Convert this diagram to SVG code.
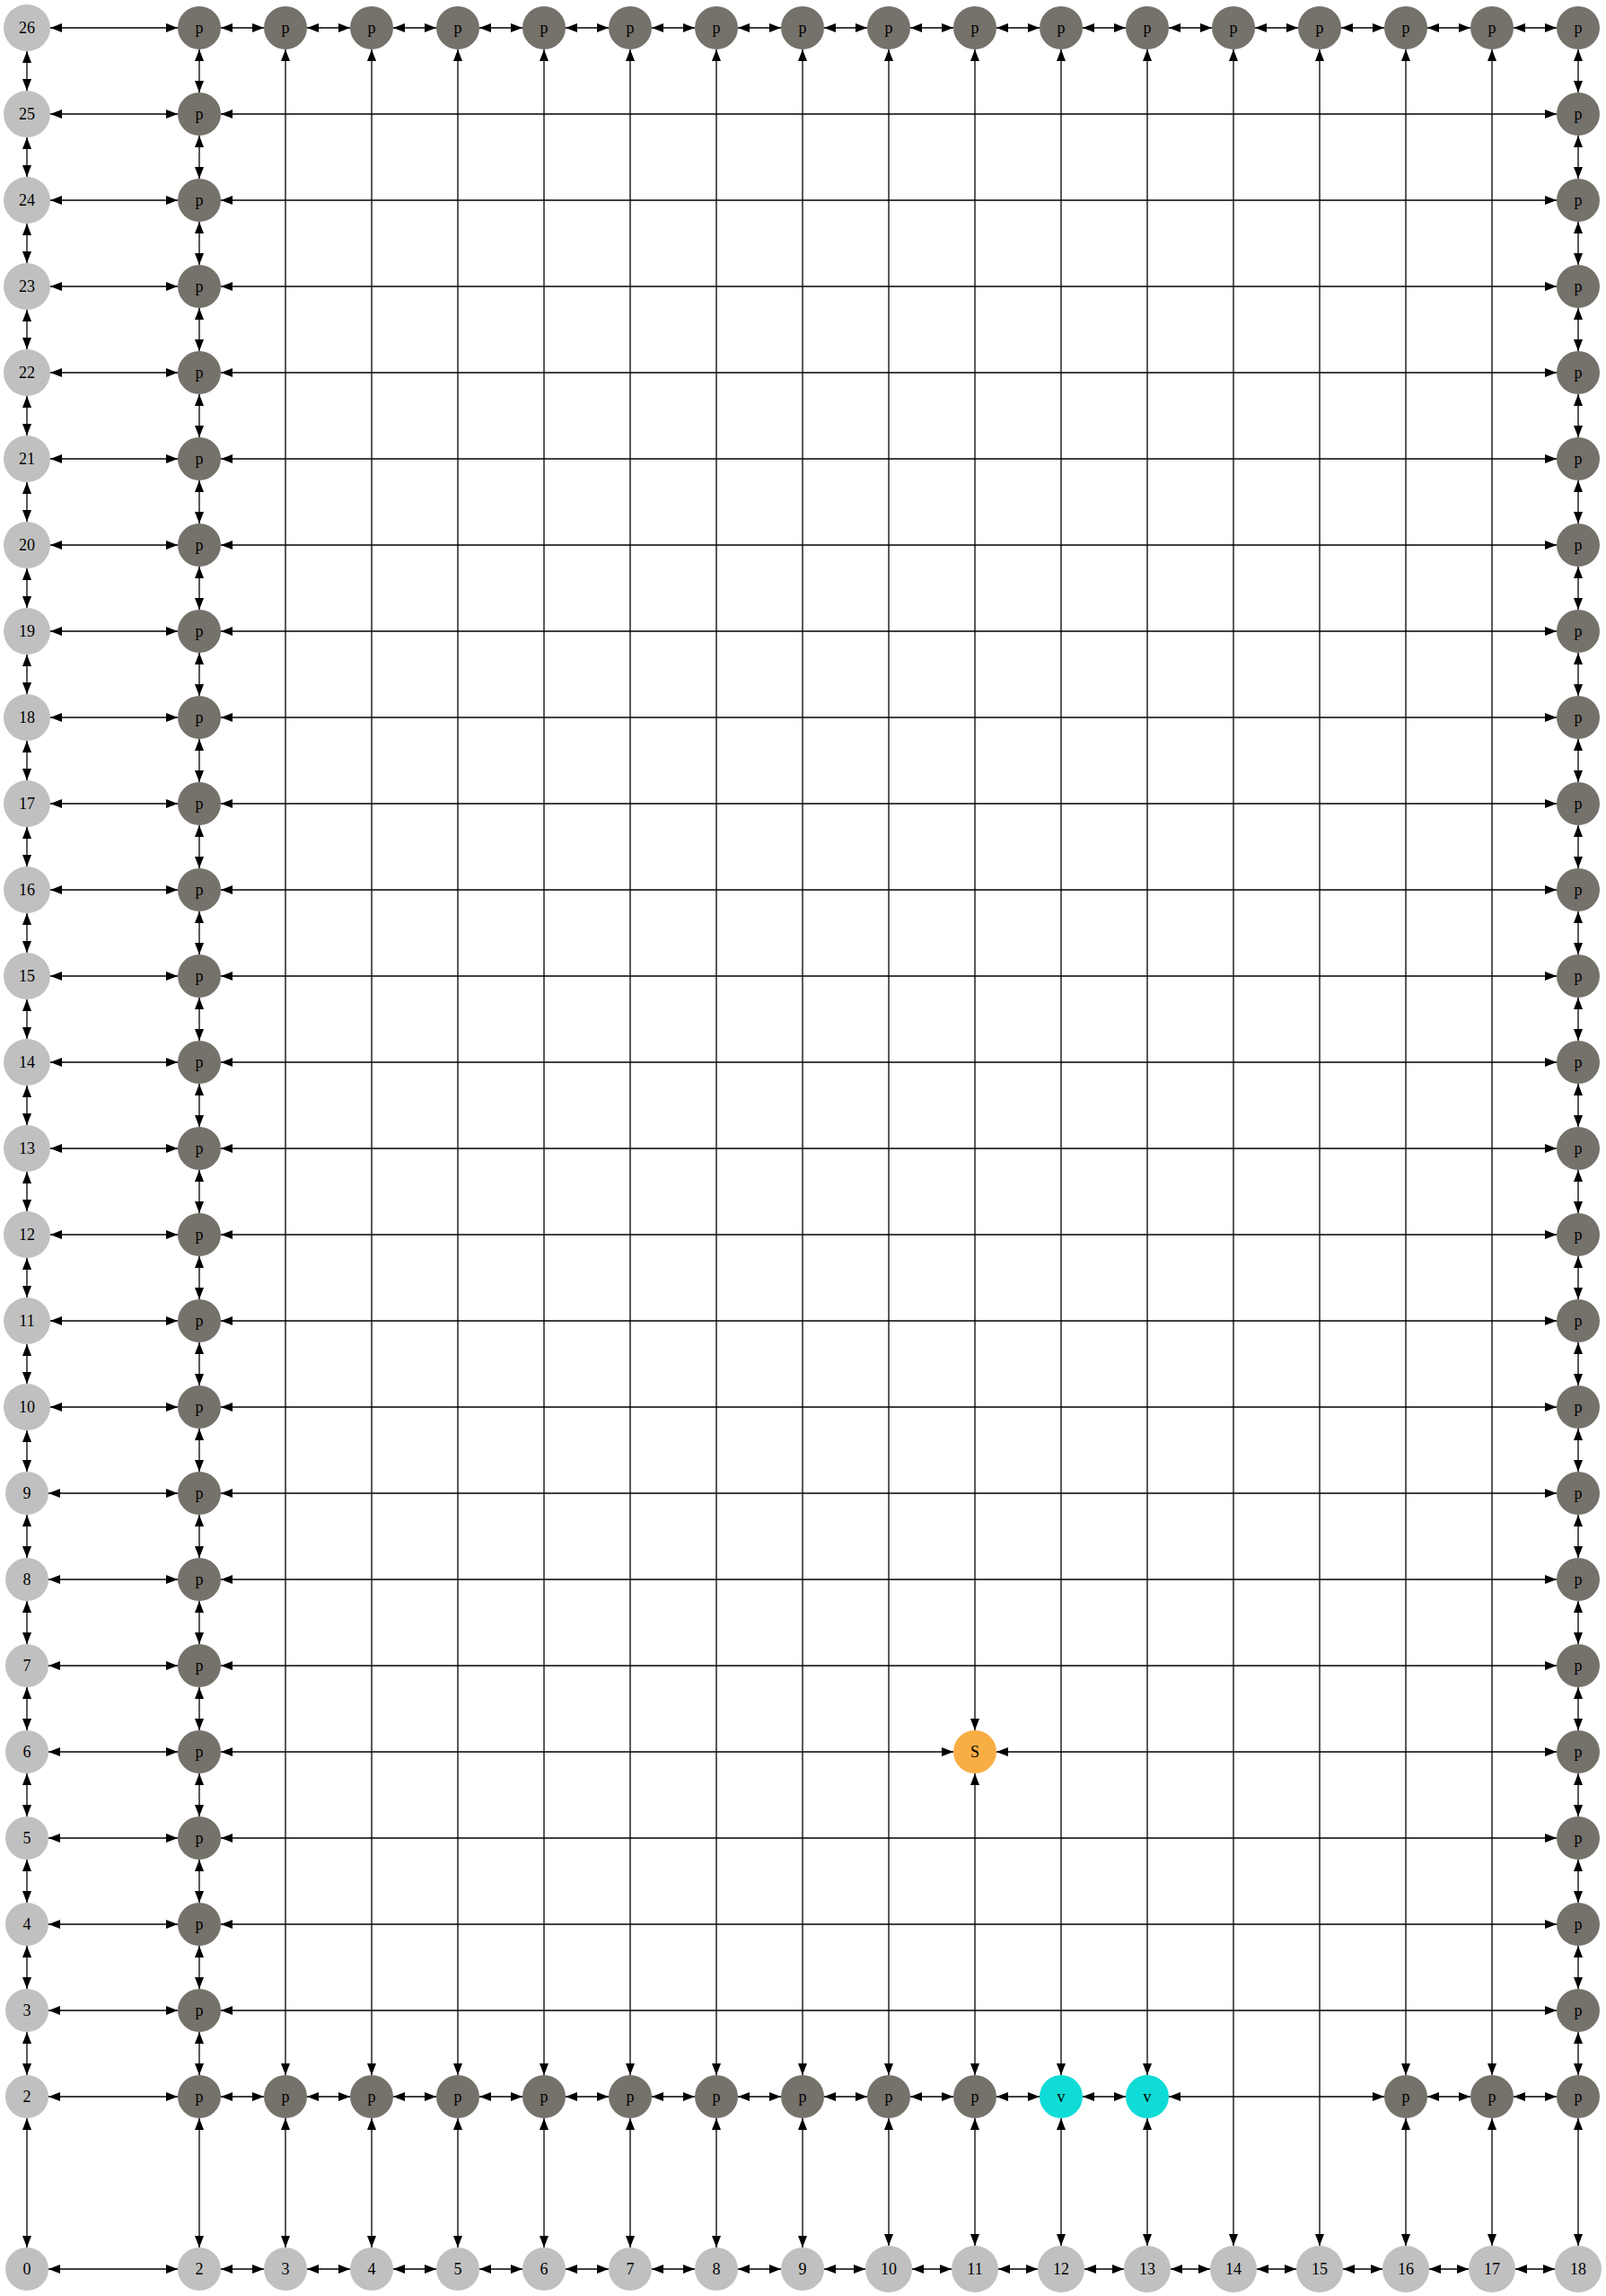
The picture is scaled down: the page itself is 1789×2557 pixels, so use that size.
<svg xmlns="http://www.w3.org/2000/svg" width="1789" height="2557" viewBox="0 0 1789 2557">
<style>
.e{stroke:#000;stroke-width:1.3;fill:none;marker-start:url(#a);marker-end:url(#a)}
.g{fill:#c0c0c0}
.p{fill:#75716b}
.v{fill:#0fdcd6}
.s{fill:#f9ae44}
text{font-family:"Liberation Serif","Times New Roman",serif;font-size:18px;text-anchor:middle;fill:#000}
</style>
<defs>
<marker id="a" viewBox="0 0 13 10" refX="13" refY="5" markerWidth="13" markerHeight="10" markerUnits="userSpaceOnUse" orient="auto-start-reverse">
<path d="M0,0 L13,5 L0,10 z" fill="#000"/>
</marker>
</defs>
<rect width="1789" height="2557" fill="#fff"/>
<g id="connectors">
<line class="e" x1="30" y1="57" x2="30" y2="101"/>
<line class="e" x1="30" y1="153" x2="30" y2="197"/>
<line class="e" x1="30" y1="249" x2="30" y2="293"/>
<line class="e" x1="30" y1="345" x2="30" y2="389"/>
<line class="e" x1="30" y1="441" x2="30" y2="485"/>
<line class="e" x1="30" y1="537" x2="30" y2="581"/>
<line class="e" x1="30" y1="633" x2="30" y2="677"/>
<line class="e" x1="30" y1="729" x2="30" y2="773"/>
<line class="e" x1="30" y1="825" x2="30" y2="869"/>
<line class="e" x1="30" y1="921" x2="30" y2="965"/>
<line class="e" x1="30" y1="1017" x2="30" y2="1061"/>
<line class="e" x1="30" y1="1113" x2="30" y2="1157"/>
<line class="e" x1="30" y1="1209" x2="30" y2="1253"/>
<line class="e" x1="30" y1="1305" x2="30" y2="1349"/>
<line class="e" x1="30" y1="1401" x2="30" y2="1445"/>
<line class="e" x1="30" y1="1497" x2="30" y2="1541"/>
<line class="e" x1="30" y1="1593" x2="30" y2="1639"/>
<line class="e" x1="30" y1="1687" x2="30" y2="1735"/>
<line class="e" x1="30" y1="1783" x2="30" y2="1831"/>
<line class="e" x1="30" y1="1879" x2="30" y2="1927"/>
<line class="e" x1="30" y1="1975" x2="30" y2="2023"/>
<line class="e" x1="30" y1="2071" x2="30" y2="2119"/>
<line class="e" x1="30" y1="2167" x2="30" y2="2215"/>
<line class="e" x1="30" y1="2263" x2="30" y2="2311"/>
<line class="e" x1="30" y1="2359" x2="30" y2="2503"/>
<line class="e" x1="56" y1="31" x2="198" y2="31"/>
<line class="e" x1="56" y1="127" x2="198" y2="127"/>
<line class="e" x1="56" y1="223" x2="198" y2="223"/>
<line class="e" x1="56" y1="319" x2="198" y2="319"/>
<line class="e" x1="56" y1="415" x2="198" y2="415"/>
<line class="e" x1="56" y1="511" x2="198" y2="511"/>
<line class="e" x1="56" y1="607" x2="198" y2="607"/>
<line class="e" x1="56" y1="703" x2="198" y2="703"/>
<line class="e" x1="56" y1="799" x2="198" y2="799"/>
<line class="e" x1="56" y1="895" x2="198" y2="895"/>
<line class="e" x1="56" y1="991" x2="198" y2="991"/>
<line class="e" x1="56" y1="1087" x2="198" y2="1087"/>
<line class="e" x1="56" y1="1183" x2="198" y2="1183"/>
<line class="e" x1="56" y1="1279" x2="198" y2="1279"/>
<line class="e" x1="56" y1="1375" x2="198" y2="1375"/>
<line class="e" x1="56" y1="1471" x2="198" y2="1471"/>
<line class="e" x1="56" y1="1567" x2="198" y2="1567"/>
<line class="e" x1="54" y1="1663" x2="198" y2="1663"/>
<line class="e" x1="54" y1="1759" x2="198" y2="1759"/>
<line class="e" x1="54" y1="1855" x2="198" y2="1855"/>
<line class="e" x1="54" y1="1951" x2="198" y2="1951"/>
<line class="e" x1="54" y1="2047" x2="198" y2="2047"/>
<line class="e" x1="54" y1="2143" x2="198" y2="2143"/>
<line class="e" x1="54" y1="2239" x2="198" y2="2239"/>
<line class="e" x1="54" y1="2335" x2="198" y2="2335"/>
<line class="e" x1="54" y1="2527" x2="198" y2="2527"/>
<line class="e" x1="222" y1="55" x2="222" y2="103"/>
<line class="e" x1="222" y1="151" x2="222" y2="199"/>
<line class="e" x1="222" y1="247" x2="222" y2="295"/>
<line class="e" x1="222" y1="343" x2="222" y2="391"/>
<line class="e" x1="222" y1="439" x2="222" y2="487"/>
<line class="e" x1="222" y1="535" x2="222" y2="583"/>
<line class="e" x1="222" y1="631" x2="222" y2="679"/>
<line class="e" x1="222" y1="727" x2="222" y2="775"/>
<line class="e" x1="222" y1="823" x2="222" y2="871"/>
<line class="e" x1="222" y1="919" x2="222" y2="967"/>
<line class="e" x1="222" y1="1015" x2="222" y2="1063"/>
<line class="e" x1="222" y1="1111" x2="222" y2="1159"/>
<line class="e" x1="222" y1="1207" x2="222" y2="1255"/>
<line class="e" x1="222" y1="1303" x2="222" y2="1351"/>
<line class="e" x1="222" y1="1399" x2="222" y2="1447"/>
<line class="e" x1="222" y1="1495" x2="222" y2="1543"/>
<line class="e" x1="222" y1="1591" x2="222" y2="1639"/>
<line class="e" x1="222" y1="1687" x2="222" y2="1735"/>
<line class="e" x1="222" y1="1783" x2="222" y2="1831"/>
<line class="e" x1="222" y1="1879" x2="222" y2="1927"/>
<line class="e" x1="222" y1="1975" x2="222" y2="2023"/>
<line class="e" x1="222" y1="2071" x2="222" y2="2119"/>
<line class="e" x1="222" y1="2167" x2="222" y2="2215"/>
<line class="e" x1="222" y1="2263" x2="222" y2="2311"/>
<line class="e" x1="1758" y1="55" x2="1758" y2="103"/>
<line class="e" x1="1758" y1="151" x2="1758" y2="199"/>
<line class="e" x1="1758" y1="247" x2="1758" y2="295"/>
<line class="e" x1="1758" y1="343" x2="1758" y2="391"/>
<line class="e" x1="1758" y1="439" x2="1758" y2="487"/>
<line class="e" x1="1758" y1="535" x2="1758" y2="583"/>
<line class="e" x1="1758" y1="631" x2="1758" y2="679"/>
<line class="e" x1="1758" y1="727" x2="1758" y2="775"/>
<line class="e" x1="1758" y1="823" x2="1758" y2="871"/>
<line class="e" x1="1758" y1="919" x2="1758" y2="967"/>
<line class="e" x1="1758" y1="1015" x2="1758" y2="1063"/>
<line class="e" x1="1758" y1="1111" x2="1758" y2="1159"/>
<line class="e" x1="1758" y1="1207" x2="1758" y2="1255"/>
<line class="e" x1="1758" y1="1303" x2="1758" y2="1351"/>
<line class="e" x1="1758" y1="1399" x2="1758" y2="1447"/>
<line class="e" x1="1758" y1="1495" x2="1758" y2="1543"/>
<line class="e" x1="1758" y1="1591" x2="1758" y2="1639"/>
<line class="e" x1="1758" y1="1687" x2="1758" y2="1735"/>
<line class="e" x1="1758" y1="1783" x2="1758" y2="1831"/>
<line class="e" x1="1758" y1="1879" x2="1758" y2="1927"/>
<line class="e" x1="1758" y1="1975" x2="1758" y2="2023"/>
<line class="e" x1="1758" y1="2071" x2="1758" y2="2119"/>
<line class="e" x1="1758" y1="2167" x2="1758" y2="2215"/>
<line class="e" x1="1758" y1="2263" x2="1758" y2="2311"/>
<line class="e" x1="246" y1="127" x2="1734" y2="127"/>
<line class="e" x1="246" y1="223" x2="1734" y2="223"/>
<line class="e" x1="246" y1="319" x2="1734" y2="319"/>
<line class="e" x1="246" y1="415" x2="1734" y2="415"/>
<line class="e" x1="246" y1="511" x2="1734" y2="511"/>
<line class="e" x1="246" y1="607" x2="1734" y2="607"/>
<line class="e" x1="246" y1="703" x2="1734" y2="703"/>
<line class="e" x1="246" y1="799" x2="1734" y2="799"/>
<line class="e" x1="246" y1="895" x2="1734" y2="895"/>
<line class="e" x1="246" y1="991" x2="1734" y2="991"/>
<line class="e" x1="246" y1="1087" x2="1734" y2="1087"/>
<line class="e" x1="246" y1="1183" x2="1734" y2="1183"/>
<line class="e" x1="246" y1="1279" x2="1734" y2="1279"/>
<line class="e" x1="246" y1="1375" x2="1734" y2="1375"/>
<line class="e" x1="246" y1="1471" x2="1734" y2="1471"/>
<line class="e" x1="246" y1="1567" x2="1734" y2="1567"/>
<line class="e" x1="246" y1="1663" x2="1734" y2="1663"/>
<line class="e" x1="246" y1="1759" x2="1734" y2="1759"/>
<line class="e" x1="246" y1="1855" x2="1734" y2="1855"/>
<line class="e" x1="246" y1="1951" x2="1062" y2="1951"/>
<line class="e" x1="1110" y1="1951" x2="1734" y2="1951"/>
<line class="e" x1="246" y1="2047" x2="1734" y2="2047"/>
<line class="e" x1="246" y1="2143" x2="1734" y2="2143"/>
<line class="e" x1="246" y1="2239" x2="1734" y2="2239"/>
<line class="e" x1="246" y1="31" x2="294" y2="31"/>
<line class="e" x1="342" y1="31" x2="390" y2="31"/>
<line class="e" x1="438" y1="31" x2="486" y2="31"/>
<line class="e" x1="534" y1="31" x2="582" y2="31"/>
<line class="e" x1="630" y1="31" x2="678" y2="31"/>
<line class="e" x1="726" y1="31" x2="774" y2="31"/>
<line class="e" x1="822" y1="31" x2="870" y2="31"/>
<line class="e" x1="918" y1="31" x2="966" y2="31"/>
<line class="e" x1="1014" y1="31" x2="1062" y2="31"/>
<line class="e" x1="1110" y1="31" x2="1158" y2="31"/>
<line class="e" x1="1206" y1="31" x2="1254" y2="31"/>
<line class="e" x1="1302" y1="31" x2="1350" y2="31"/>
<line class="e" x1="1398" y1="31" x2="1446" y2="31"/>
<line class="e" x1="1494" y1="31" x2="1542" y2="31"/>
<line class="e" x1="1590" y1="31" x2="1638" y2="31"/>
<line class="e" x1="1686" y1="31" x2="1734" y2="31"/>
<line class="e" x1="246" y1="2335" x2="294" y2="2335"/>
<line class="e" x1="342" y1="2335" x2="390" y2="2335"/>
<line class="e" x1="438" y1="2335" x2="486" y2="2335"/>
<line class="e" x1="534" y1="2335" x2="582" y2="2335"/>
<line class="e" x1="630" y1="2335" x2="678" y2="2335"/>
<line class="e" x1="726" y1="2335" x2="774" y2="2335"/>
<line class="e" x1="822" y1="2335" x2="870" y2="2335"/>
<line class="e" x1="918" y1="2335" x2="966" y2="2335"/>
<line class="e" x1="1014" y1="2335" x2="1062" y2="2335"/>
<line class="e" x1="1110" y1="2335" x2="1158" y2="2335"/>
<line class="e" x1="1206" y1="2335" x2="1254" y2="2335"/>
<line class="e" x1="1302" y1="2335" x2="1542" y2="2335"/>
<line class="e" x1="1590" y1="2335" x2="1638" y2="2335"/>
<line class="e" x1="1686" y1="2335" x2="1734" y2="2335"/>
<line class="e" x1="246" y1="2527" x2="294" y2="2527"/>
<line class="e" x1="342" y1="2527" x2="390" y2="2527"/>
<line class="e" x1="438" y1="2527" x2="486" y2="2527"/>
<line class="e" x1="534" y1="2527" x2="582" y2="2527"/>
<line class="e" x1="630" y1="2527" x2="678" y2="2527"/>
<line class="e" x1="726" y1="2527" x2="774" y2="2527"/>
<line class="e" x1="822" y1="2527" x2="870" y2="2527"/>
<line class="e" x1="918" y1="2527" x2="964" y2="2527"/>
<line class="e" x1="1016" y1="2527" x2="1060" y2="2527"/>
<line class="e" x1="1112" y1="2527" x2="1156" y2="2527"/>
<line class="e" x1="1208" y1="2527" x2="1252" y2="2527"/>
<line class="e" x1="1304" y1="2527" x2="1348" y2="2527"/>
<line class="e" x1="1400" y1="2527" x2="1444" y2="2527"/>
<line class="e" x1="1496" y1="2527" x2="1540" y2="2527"/>
<line class="e" x1="1592" y1="2527" x2="1636" y2="2527"/>
<line class="e" x1="1688" y1="2527" x2="1732" y2="2527"/>
<line class="e" x1="318" y1="55" x2="318" y2="2311"/>
<line class="e" x1="414" y1="55" x2="414" y2="2311"/>
<line class="e" x1="510" y1="55" x2="510" y2="2311"/>
<line class="e" x1="606" y1="55" x2="606" y2="2311"/>
<line class="e" x1="702" y1="55" x2="702" y2="2311"/>
<line class="e" x1="798" y1="55" x2="798" y2="2311"/>
<line class="e" x1="894" y1="55" x2="894" y2="2311"/>
<line class="e" x1="990" y1="55" x2="990" y2="2311"/>
<line class="e" x1="1086" y1="55" x2="1086" y2="1927"/>
<line class="e" x1="1086" y1="1975" x2="1086" y2="2311"/>
<line class="e" x1="1182" y1="55" x2="1182" y2="2311"/>
<line class="e" x1="1278" y1="55" x2="1278" y2="2311"/>
<line class="e" x1="1374" y1="55" x2="1374" y2="2501"/>
<line class="e" x1="1470" y1="55" x2="1470" y2="2501"/>
<line class="e" x1="1566" y1="55" x2="1566" y2="2311"/>
<line class="e" x1="1662" y1="55" x2="1662" y2="2311"/>
<line class="e" x1="222" y1="2359" x2="222" y2="2503"/>
<line class="e" x1="318" y1="2359" x2="318" y2="2503"/>
<line class="e" x1="414" y1="2359" x2="414" y2="2503"/>
<line class="e" x1="510" y1="2359" x2="510" y2="2503"/>
<line class="e" x1="606" y1="2359" x2="606" y2="2503"/>
<line class="e" x1="702" y1="2359" x2="702" y2="2503"/>
<line class="e" x1="798" y1="2359" x2="798" y2="2503"/>
<line class="e" x1="894" y1="2359" x2="894" y2="2503"/>
<line class="e" x1="990" y1="2359" x2="990" y2="2501"/>
<line class="e" x1="1086" y1="2359" x2="1086" y2="2501"/>
<line class="e" x1="1182" y1="2359" x2="1182" y2="2501"/>
<line class="e" x1="1278" y1="2359" x2="1278" y2="2501"/>
<line class="e" x1="1566" y1="2359" x2="1566" y2="2501"/>
<line class="e" x1="1662" y1="2359" x2="1662" y2="2501"/>
<line class="e" x1="1758" y1="2359" x2="1758" y2="2501"/>
</g>
<g id="nodes">
<g id="l26"><circle class="g" cx="30" cy="31" r="26"/><text x="30" y="37">26</text></g>
<g id="l25"><circle class="g" cx="30" cy="127" r="26"/><text x="30" y="133">25</text></g>
<g id="l24"><circle class="g" cx="30" cy="223" r="26"/><text x="30" y="229">24</text></g>
<g id="l23"><circle class="g" cx="30" cy="319" r="26"/><text x="30" y="325">23</text></g>
<g id="l22"><circle class="g" cx="30" cy="415" r="26"/><text x="30" y="421">22</text></g>
<g id="l21"><circle class="g" cx="30" cy="511" r="26"/><text x="30" y="517">21</text></g>
<g id="l20"><circle class="g" cx="30" cy="607" r="26"/><text x="30" y="613">20</text></g>
<g id="l19"><circle class="g" cx="30" cy="703" r="26"/><text x="30" y="709">19</text></g>
<g id="l18"><circle class="g" cx="30" cy="799" r="26"/><text x="30" y="805">18</text></g>
<g id="l17"><circle class="g" cx="30" cy="895" r="26"/><text x="30" y="901">17</text></g>
<g id="l16"><circle class="g" cx="30" cy="991" r="26"/><text x="30" y="997">16</text></g>
<g id="l15"><circle class="g" cx="30" cy="1087" r="26"/><text x="30" y="1093">15</text></g>
<g id="l14"><circle class="g" cx="30" cy="1183" r="26"/><text x="30" y="1189">14</text></g>
<g id="l13"><circle class="g" cx="30" cy="1279" r="26"/><text x="30" y="1285">13</text></g>
<g id="l12"><circle class="g" cx="30" cy="1375" r="26"/><text x="30" y="1381">12</text></g>
<g id="l11"><circle class="g" cx="30" cy="1471" r="26"/><text x="30" y="1477">11</text></g>
<g id="l10"><circle class="g" cx="30" cy="1567" r="26"/><text x="30" y="1573">10</text></g>
<g id="l9"><circle class="g" cx="30" cy="1663" r="24"/><text x="30" y="1669">9</text></g>
<g id="l8"><circle class="g" cx="30" cy="1759" r="24"/><text x="30" y="1765">8</text></g>
<g id="l7"><circle class="g" cx="30" cy="1855" r="24"/><text x="30" y="1861">7</text></g>
<g id="l6"><circle class="g" cx="30" cy="1951" r="24"/><text x="30" y="1957">6</text></g>
<g id="l5"><circle class="g" cx="30" cy="2047" r="24"/><text x="30" y="2053">5</text></g>
<g id="l4"><circle class="g" cx="30" cy="2143" r="24"/><text x="30" y="2149">4</text></g>
<g id="l3"><circle class="g" cx="30" cy="2239" r="24"/><text x="30" y="2245">3</text></g>
<g id="l2"><circle class="g" cx="30" cy="2335" r="24"/><text x="30" y="2341">2</text></g>
<g id="l0"><circle class="g" cx="30" cy="2527" r="24"/><text x="30" y="2533">0</text></g>
<g id="b2"><circle class="g" cx="222" cy="2527" r="24"/><text x="222" y="2533">2</text></g>
<g id="b3"><circle class="g" cx="318" cy="2527" r="24"/><text x="318" y="2533">3</text></g>
<g id="b4"><circle class="g" cx="414" cy="2527" r="24"/><text x="414" y="2533">4</text></g>
<g id="b5"><circle class="g" cx="510" cy="2527" r="24"/><text x="510" y="2533">5</text></g>
<g id="b6"><circle class="g" cx="606" cy="2527" r="24"/><text x="606" y="2533">6</text></g>
<g id="b7"><circle class="g" cx="702" cy="2527" r="24"/><text x="702" y="2533">7</text></g>
<g id="b8"><circle class="g" cx="798" cy="2527" r="24"/><text x="798" y="2533">8</text></g>
<g id="b9"><circle class="g" cx="894" cy="2527" r="24"/><text x="894" y="2533">9</text></g>
<g id="b10"><circle class="g" cx="990" cy="2527" r="26"/><text x="990" y="2533">10</text></g>
<g id="b11"><circle class="g" cx="1086" cy="2527" r="26"/><text x="1086" y="2533">11</text></g>
<g id="b12"><circle class="g" cx="1182" cy="2527" r="26"/><text x="1182" y="2533">12</text></g>
<g id="b13"><circle class="g" cx="1278" cy="2527" r="26"/><text x="1278" y="2533">13</text></g>
<g id="b14"><circle class="g" cx="1374" cy="2527" r="26"/><text x="1374" y="2533">14</text></g>
<g id="b15"><circle class="g" cx="1470" cy="2527" r="26"/><text x="1470" y="2533">15</text></g>
<g id="b16"><circle class="g" cx="1566" cy="2527" r="26"/><text x="1566" y="2533">16</text></g>
<g id="b17"><circle class="g" cx="1662" cy="2527" r="26"/><text x="1662" y="2533">17</text></g>
<g id="b18"><circle class="g" cx="1758" cy="2527" r="26"/><text x="1758" y="2533">18</text></g>
<g id="p2_26"><circle class="p" cx="222" cy="31" r="24"/><text x="222" y="37">p</text></g>
<g id="p2_25"><circle class="p" cx="222" cy="127" r="24"/><text x="222" y="133">p</text></g>
<g id="p2_24"><circle class="p" cx="222" cy="223" r="24"/><text x="222" y="229">p</text></g>
<g id="p2_23"><circle class="p" cx="222" cy="319" r="24"/><text x="222" y="325">p</text></g>
<g id="p2_22"><circle class="p" cx="222" cy="415" r="24"/><text x="222" y="421">p</text></g>
<g id="p2_21"><circle class="p" cx="222" cy="511" r="24"/><text x="222" y="517">p</text></g>
<g id="p2_20"><circle class="p" cx="222" cy="607" r="24"/><text x="222" y="613">p</text></g>
<g id="p2_19"><circle class="p" cx="222" cy="703" r="24"/><text x="222" y="709">p</text></g>
<g id="p2_18"><circle class="p" cx="222" cy="799" r="24"/><text x="222" y="805">p</text></g>
<g id="p2_17"><circle class="p" cx="222" cy="895" r="24"/><text x="222" y="901">p</text></g>
<g id="p2_16"><circle class="p" cx="222" cy="991" r="24"/><text x="222" y="997">p</text></g>
<g id="p2_15"><circle class="p" cx="222" cy="1087" r="24"/><text x="222" y="1093">p</text></g>
<g id="p2_14"><circle class="p" cx="222" cy="1183" r="24"/><text x="222" y="1189">p</text></g>
<g id="p2_13"><circle class="p" cx="222" cy="1279" r="24"/><text x="222" y="1285">p</text></g>
<g id="p2_12"><circle class="p" cx="222" cy="1375" r="24"/><text x="222" y="1381">p</text></g>
<g id="p2_11"><circle class="p" cx="222" cy="1471" r="24"/><text x="222" y="1477">p</text></g>
<g id="p2_10"><circle class="p" cx="222" cy="1567" r="24"/><text x="222" y="1573">p</text></g>
<g id="p2_9"><circle class="p" cx="222" cy="1663" r="24"/><text x="222" y="1669">p</text></g>
<g id="p2_8"><circle class="p" cx="222" cy="1759" r="24"/><text x="222" y="1765">p</text></g>
<g id="p2_7"><circle class="p" cx="222" cy="1855" r="24"/><text x="222" y="1861">p</text></g>
<g id="p2_6"><circle class="p" cx="222" cy="1951" r="24"/><text x="222" y="1957">p</text></g>
<g id="p2_5"><circle class="p" cx="222" cy="2047" r="24"/><text x="222" y="2053">p</text></g>
<g id="p2_4"><circle class="p" cx="222" cy="2143" r="24"/><text x="222" y="2149">p</text></g>
<g id="p2_3"><circle class="p" cx="222" cy="2239" r="24"/><text x="222" y="2245">p</text></g>
<g id="p2_2"><circle class="p" cx="222" cy="2335" r="24"/><text x="222" y="2341">p</text></g>
<g id="p18_26"><circle class="p" cx="1758" cy="31" r="24"/><text x="1758" y="37">p</text></g>
<g id="p18_25"><circle class="p" cx="1758" cy="127" r="24"/><text x="1758" y="133">p</text></g>
<g id="p18_24"><circle class="p" cx="1758" cy="223" r="24"/><text x="1758" y="229">p</text></g>
<g id="p18_23"><circle class="p" cx="1758" cy="319" r="24"/><text x="1758" y="325">p</text></g>
<g id="p18_22"><circle class="p" cx="1758" cy="415" r="24"/><text x="1758" y="421">p</text></g>
<g id="p18_21"><circle class="p" cx="1758" cy="511" r="24"/><text x="1758" y="517">p</text></g>
<g id="p18_20"><circle class="p" cx="1758" cy="607" r="24"/><text x="1758" y="613">p</text></g>
<g id="p18_19"><circle class="p" cx="1758" cy="703" r="24"/><text x="1758" y="709">p</text></g>
<g id="p18_18"><circle class="p" cx="1758" cy="799" r="24"/><text x="1758" y="805">p</text></g>
<g id="p18_17"><circle class="p" cx="1758" cy="895" r="24"/><text x="1758" y="901">p</text></g>
<g id="p18_16"><circle class="p" cx="1758" cy="991" r="24"/><text x="1758" y="997">p</text></g>
<g id="p18_15"><circle class="p" cx="1758" cy="1087" r="24"/><text x="1758" y="1093">p</text></g>
<g id="p18_14"><circle class="p" cx="1758" cy="1183" r="24"/><text x="1758" y="1189">p</text></g>
<g id="p18_13"><circle class="p" cx="1758" cy="1279" r="24"/><text x="1758" y="1285">p</text></g>
<g id="p18_12"><circle class="p" cx="1758" cy="1375" r="24"/><text x="1758" y="1381">p</text></g>
<g id="p18_11"><circle class="p" cx="1758" cy="1471" r="24"/><text x="1758" y="1477">p</text></g>
<g id="p18_10"><circle class="p" cx="1758" cy="1567" r="24"/><text x="1758" y="1573">p</text></g>
<g id="p18_9"><circle class="p" cx="1758" cy="1663" r="24"/><text x="1758" y="1669">p</text></g>
<g id="p18_8"><circle class="p" cx="1758" cy="1759" r="24"/><text x="1758" y="1765">p</text></g>
<g id="p18_7"><circle class="p" cx="1758" cy="1855" r="24"/><text x="1758" y="1861">p</text></g>
<g id="p18_6"><circle class="p" cx="1758" cy="1951" r="24"/><text x="1758" y="1957">p</text></g>
<g id="p18_5"><circle class="p" cx="1758" cy="2047" r="24"/><text x="1758" y="2053">p</text></g>
<g id="p18_4"><circle class="p" cx="1758" cy="2143" r="24"/><text x="1758" y="2149">p</text></g>
<g id="p18_3"><circle class="p" cx="1758" cy="2239" r="24"/><text x="1758" y="2245">p</text></g>
<g id="p18_2"><circle class="p" cx="1758" cy="2335" r="24"/><text x="1758" y="2341">p</text></g>
<g id="pt3"><circle class="p" cx="318" cy="31" r="24"/><text x="318" y="37">p</text></g>
<g id="pt4"><circle class="p" cx="414" cy="31" r="24"/><text x="414" y="37">p</text></g>
<g id="pt5"><circle class="p" cx="510" cy="31" r="24"/><text x="510" y="37">p</text></g>
<g id="pt6"><circle class="p" cx="606" cy="31" r="24"/><text x="606" y="37">p</text></g>
<g id="pt7"><circle class="p" cx="702" cy="31" r="24"/><text x="702" y="37">p</text></g>
<g id="pt8"><circle class="p" cx="798" cy="31" r="24"/><text x="798" y="37">p</text></g>
<g id="pt9"><circle class="p" cx="894" cy="31" r="24"/><text x="894" y="37">p</text></g>
<g id="pt10"><circle class="p" cx="990" cy="31" r="24"/><text x="990" y="37">p</text></g>
<g id="pt11"><circle class="p" cx="1086" cy="31" r="24"/><text x="1086" y="37">p</text></g>
<g id="pt12"><circle class="p" cx="1182" cy="31" r="24"/><text x="1182" y="37">p</text></g>
<g id="pt13"><circle class="p" cx="1278" cy="31" r="24"/><text x="1278" y="37">p</text></g>
<g id="pt14"><circle class="p" cx="1374" cy="31" r="24"/><text x="1374" y="37">p</text></g>
<g id="pt15"><circle class="p" cx="1470" cy="31" r="24"/><text x="1470" y="37">p</text></g>
<g id="pt16"><circle class="p" cx="1566" cy="31" r="24"/><text x="1566" y="37">p</text></g>
<g id="pt17"><circle class="p" cx="1662" cy="31" r="24"/><text x="1662" y="37">p</text></g>
<g id="pr3"><circle class="p" cx="318" cy="2335" r="24"/><text x="318" y="2341">p</text></g>
<g id="pr4"><circle class="p" cx="414" cy="2335" r="24"/><text x="414" y="2341">p</text></g>
<g id="pr5"><circle class="p" cx="510" cy="2335" r="24"/><text x="510" y="2341">p</text></g>
<g id="pr6"><circle class="p" cx="606" cy="2335" r="24"/><text x="606" y="2341">p</text></g>
<g id="pr7"><circle class="p" cx="702" cy="2335" r="24"/><text x="702" y="2341">p</text></g>
<g id="pr8"><circle class="p" cx="798" cy="2335" r="24"/><text x="798" y="2341">p</text></g>
<g id="pr9"><circle class="p" cx="894" cy="2335" r="24"/><text x="894" y="2341">p</text></g>
<g id="pr10"><circle class="p" cx="990" cy="2335" r="24"/><text x="990" y="2341">p</text></g>
<g id="pr11"><circle class="p" cx="1086" cy="2335" r="24"/><text x="1086" y="2341">p</text></g>
<g id="v12"><circle class="v" cx="1182" cy="2335" r="24"/><text x="1182" y="2341">v</text></g>
<g id="v13"><circle class="v" cx="1278" cy="2335" r="24"/><text x="1278" y="2341">v</text></g>
<g id="pr16"><circle class="p" cx="1566" cy="2335" r="24"/><text x="1566" y="2341">p</text></g>
<g id="pr17"><circle class="p" cx="1662" cy="2335" r="24"/><text x="1662" y="2341">p</text></g>
<g id="S"><circle class="s" cx="1086" cy="1951" r="24"/><text x="1086" y="1957">S</text></g>
</g>
</svg>
